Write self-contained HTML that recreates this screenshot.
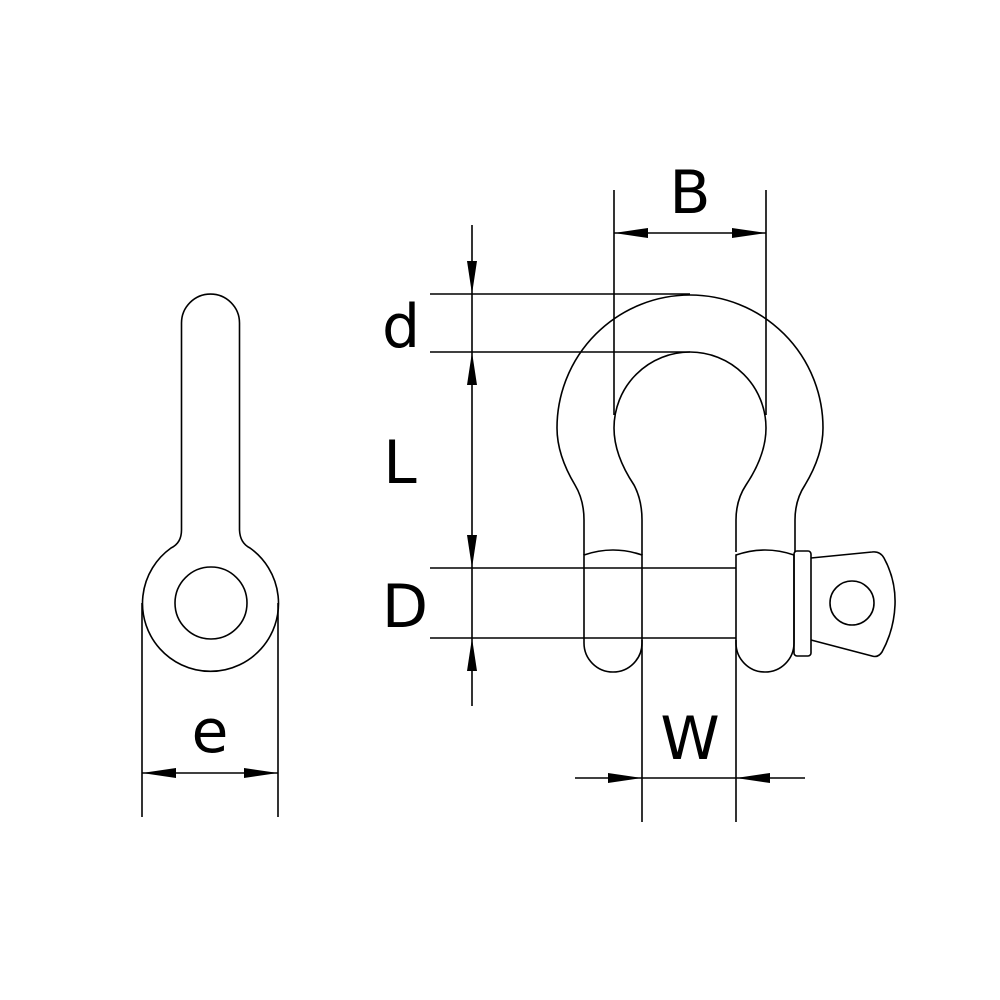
<!DOCTYPE html>
<html><head><meta charset="utf-8"><style>body{margin:0;background:#fff}svg{display:block}</style></head><body>
<svg width="1000" height="1000" viewBox="0 0 1000 1000" xmlns="http://www.w3.org/2000/svg">
<rect width="1000" height="1000" fill="#fff"/>
<g fill="none" stroke="#000" stroke-width="1.6">
<path d="M181.5 323 A29 29 0 0 1 239.5 323 L239.5 530 Q240 543 250 548 A68 68 0 1 1 171 548 Q181.5 543 181.5 530 Z"/>
<circle cx="211" cy="603" r="36"/>
<line x1="142" y1="603" x2="142" y2="817"/>
<line x1="278" y1="603" x2="278" y2="817"/>
<line x1="142" y1="773" x2="278" y2="773"/>
<path d="M584 555 L584 520 Q584 500 575 485 Q557 455 557 428 A133 133 0 0 1 823 428 Q823 455 805 485 Q795 500 795 520 L795 552"/>
<path d="M642 555 L642 520 Q642 500 634 485 Q614 455 614 428 A76 76 0 0 1 766 428 Q766 455 746 485 Q736 500 736 520 L736 552"/>
<path d="M584 555 Q613 545 642 555 L642 643 A29 29 0 0 1 584 643 Z"/>
<path d="M736 555 Q765 545 794 555 L794 643 A29 29 0 0 1 736 643 Z"/>
<rect x="794" y="551" width="17" height="105" rx="3"/>
<path d="M811 558 L872 552 Q880 551 884 558 Q896 580 895 605 Q894 630 882 652 Q878 658 872 656 L811 640"/>
<circle cx="852" cy="603" r="22"/>
<line x1="430" y1="294" x2="690" y2="294"/>
<line x1="430" y1="352" x2="690" y2="352"/>
<line x1="430" y1="568" x2="736" y2="568"/>
<line x1="430" y1="638" x2="736" y2="638"/>
<line x1="472" y1="225" x2="472" y2="706"/>
<line x1="614" y1="190" x2="614" y2="415"/>
<line x1="766" y1="190" x2="766" y2="415"/>
<line x1="614" y1="233" x2="766" y2="233"/>
<line x1="642" y1="640" x2="642" y2="822"/>
<line x1="736" y1="640" x2="736" y2="822"/>
<line x1="575" y1="778" x2="805" y2="778"/>
</g>
<g fill="#000">
<polygon points="472,294 467,261 477,261"/>
<polygon points="472,352 467,385 477,385"/>
<polygon points="472,568 467,535 477,535"/>
<polygon points="472,638 467,671 477,671"/>
<polygon points="614,233 648,228 648,238"/>
<polygon points="766,233 732,228 732,238"/>
<polygon points="142,773 176,768 176,778"/>
<polygon points="278,773 244,768 244,778"/>
<polygon points="642,778 608,773 608,783"/>
<polygon points="736,778 770,773 770,783"/>
</g>
<g font-family="'DejaVu Sans', sans-serif" font-size="60" text-anchor="middle" fill="#000">
<text x="690" y="213">B</text>
<text x="401" y="347">d</text>
<text x="400" y="483">L</text>
<text x="405" y="627">D</text>
<text x="210" y="752">e</text>
<text x="690" y="759">W</text>
</g>
</svg>
</body></html>
